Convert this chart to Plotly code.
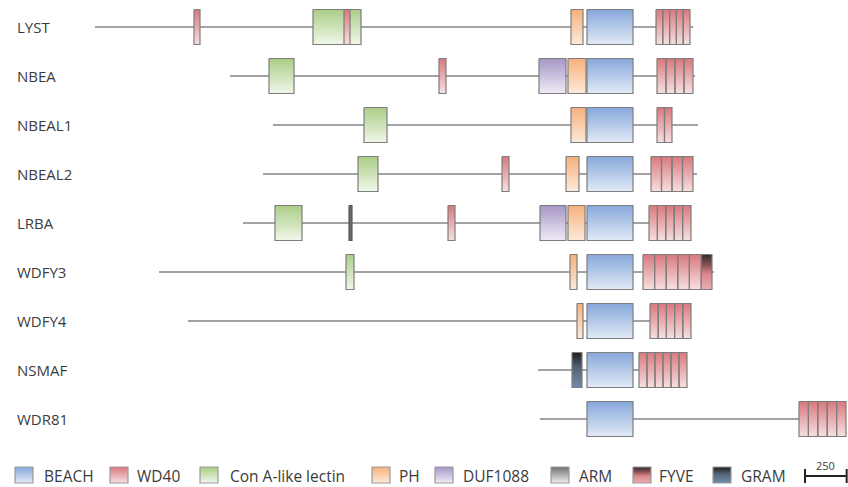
import plotly.graph_objects as go

# ---------------- data (amino-acid positions, aligned on BEACH domain) ----------------
proteins = ["LYST", "NBEA", "NBEAL1", "NBEAL2", "LRBA", "WDFY3", "WDFY4", "NSMAF", "WDR81"]
backbone_start = [0, 810, 1068, 1008, 888, 384, 558, 2658, 2670]
backbone_end = [3588, 3600, 3618, 3612, 3576, 3714, 3576, 3552, 4506]

beach_domains = [(i, 2952, 3228) for i in range(9)]
ph_domains = [(0, 2856, 2928), (1, 2838, 2946), (2, 2856, 2946), (3, 2826, 2904),
              (4, 2838, 2940), (5, 2850, 2892), (6, 2892, 2928)]
lectin_domains = [(0, 1308, 1596), (1, 1044, 1194), (2, 1614, 1752), (3, 1578, 1698),
                  (4, 1080, 1242), (5, 1506, 1554)]
duf1088_domains = [(1, 2664, 2826), (4, 2670, 2826)]
arm_domains = [(4, 1524, 1542)]
fyve_domains = [(5, 3636, 3702)]
gram_domains = [(7, 2862, 2922)]
# WD40: (protein, start, end, number of blades)
wd40_domains = [(0, 594, 630, 1), (0, 1494, 1530, 1), (0, 3366, 3570, 5),
                (1, 2064, 2106, 1), (1, 3372, 3588, 4),
                (2, 3372, 3462, 2),
                (3, 2442, 2484, 1), (3, 3336, 3588, 4),
                (4, 2118, 2160, 1), (4, 3324, 3576, 5),
                (5, 3288, 3636, 5),
                (6, 3330, 3576, 5),
                (7, 3264, 3552, 6),
                (8, 4224, 4506, 5)]

legend_labels = ["BEACH", "WD40", "Con A-like lectin", "PH", "DUF1088", "ARM", "FYVE", "GRAM"]
scale_length = 250

# ---------------- styling ----------------
colors_top_to_bottom = {
    "BEACH": [[0, "#86a8da"], [1, "#e2eaf6"]],
    "WD40": [[0, "#d9787e"], [1, "#f7e0e0"]],
    "Con A-like lectin": [[0, "#aacd86"], [1, "#f1f7ea"]],
    "PH": [[0, "#f6b07c"], [1, "#fdeadb"]],
    "DUF1088": [[0, "#a696c6"], [1, "#f0ebf6"]],
    "ARM": [[0, "#707070"], [1, "#f0f0f0"]],
    "FYVE": [[0, "#2e2e2e"], [0.3, "#8a5055"], [0.55, "#d8848a"], [1, "#eab0b3"]],
    "GRAM": [[0, "#1e1e1e"], [0.45, "#55657a"], [1, "#6f8bab"]],
}
# gradient runs bottom -> top in the renderer, so flip the stops
colors = {k: sorted([[round(1 - p, 4), c] for p, c in v]) for k, v in colors_top_to_bottom.items()}
ARM_SOLID = "#6a6a6a"
BORDER = "#7d7d7d"
TEXT = "#3c3c3c"
FONT = "Open Sans"

W, H = 848, 487
def xd(px):  # layout helper: pixel -> data x
    return (px - 95) * 6
def yd(py):  # layout helper: pixel -> data y
    return (py - 27) / 49.0

HALF = 17.5 / 49.0

fig = go.Figure()

def rect_path(x0, x1, y0, y1):
    return [x0, x1, x1, x0, x0, None], [y0, y0, y1, y1, y0, None]

def add_boxes(rects, cscale, line_color=BORDER, solid=None):
    xs, ys = [], []
    for (x0, x1, y0, y1) in rects:
        a, b = rect_path(x0, x1, y0, y1)
        xs += a
        ys += b
    kw = {}
    if solid:
        kw["fillcolor"] = solid
    else:
        kw["fillgradient"] = dict(type="vertical", colorscale=cscale)
    fig.add_trace(go.Scatter(x=xs, y=ys, mode="lines", fill="toself",
                             line=dict(color=line_color, width=1.2),
                             hoverinfo="skip", showlegend=False, **kw))

# backbone lines
for i in range(len(proteins)):
    fig.add_trace(go.Scatter(x=[backbone_start[i], backbone_end[i]], y=[i, i], mode="lines",
                             line=dict(color="#a3a3a3", width=2.2),
                             hoverinfo="skip", showlegend=False))

def by_row(domains):
    rows = {}
    for d in domains:
        rows.setdefault(d[0], []).append(d)
    return rows

def draw(domains, key, solid=None, line_color=BORDER):
    for r, ds in by_row(domains).items():
        rects = [(s, e, r - HALF, r + HALF) for (_, s, e) in ds]
        add_boxes(rects, colors[key], line_color=line_color, solid=solid)

draw(lectin_domains, "Con A-like lectin")
draw(duf1088_domains, "DUF1088")
draw(ph_domains, "PH")
draw(beach_domains, "BEACH")
draw(gram_domains, "GRAM")
draw(fyve_domains, "FYVE")
draw(arm_domains, "ARM", solid=ARM_SOLID, line_color="#5a5a5a")

for r, ds in by_row(wd40_domains).items():
    rects = []
    for (_, s, e, n) in ds:
        step = (e - s) / n
        for k in range(n):
            rects.append((s + k * step, s + (k + 1) * step, r - HALF, r + HALF))
    add_boxes(rects, colors["WD40"])

annotations = []
for i, p in enumerate(proteins):
    annotations.append(dict(x=15 / W, xref="paper", y=i, yref="y", text=p, showarrow=False,
                            xanchor="left", yanchor="middle",
                            font=dict(size=15, color=TEXT, family=FONT)))

# legend
sq_left = [15, 110, 200, 372, 435, 551, 633, 713]
txt_left = [42, 135, 228, 397, 461, 577, 657, 739]
for lab, sl, tl in zip(legend_labels, sq_left, txt_left):
    add_boxes([(xd(sl), xd(sl + 18), yd(467), yd(483))], colors[lab], line_color="#9a9a9a")
    annotations.append(dict(x=xd(tl), y=yd(475.5), xref="x", yref="y", text=lab, showarrow=False,
                            xanchor="left", yanchor="middle",
                            font=dict(size=15.5, color=TEXT, family=FONT)))

# scale bar
sb0 = xd(805)
fig.add_trace(go.Scatter(x=[sb0, sb0 + scale_length], y=[yd(476), yd(476)], mode="lines",
                         line=dict(color="#222", width=2), hoverinfo="skip", showlegend=False))
for xv in (sb0, sb0 + scale_length):
    fig.add_trace(go.Scatter(x=[xv, xv], y=[yd(469), yd(483)], mode="lines",
                             line=dict(color="#222", width=2), hoverinfo="skip", showlegend=False))
annotations.append(dict(x=sb0 + scale_length / 2, y=yd(465), xref="x", yref="y", text=str(scale_length),
                        showarrow=False, xanchor="center", yanchor="middle",
                        font=dict(size=11, color=TEXT, family=FONT)))

fig.update_layout(
    width=W, height=H, margin=dict(l=0, r=0, t=0, b=0),
    paper_bgcolor="white", plot_bgcolor="white",
    xaxis=dict(range=[xd(0), xd(W)], visible=False, fixedrange=True),
    yaxis=dict(range=[yd(H), yd(0)], visible=False, fixedrange=True),
    annotations=annotations, showlegend=False,
)
fig.write_html("out.html", config={"displayModeBar": False},
               post_script="document.body.style.margin='0';document.body.style.overflow='hidden';")
